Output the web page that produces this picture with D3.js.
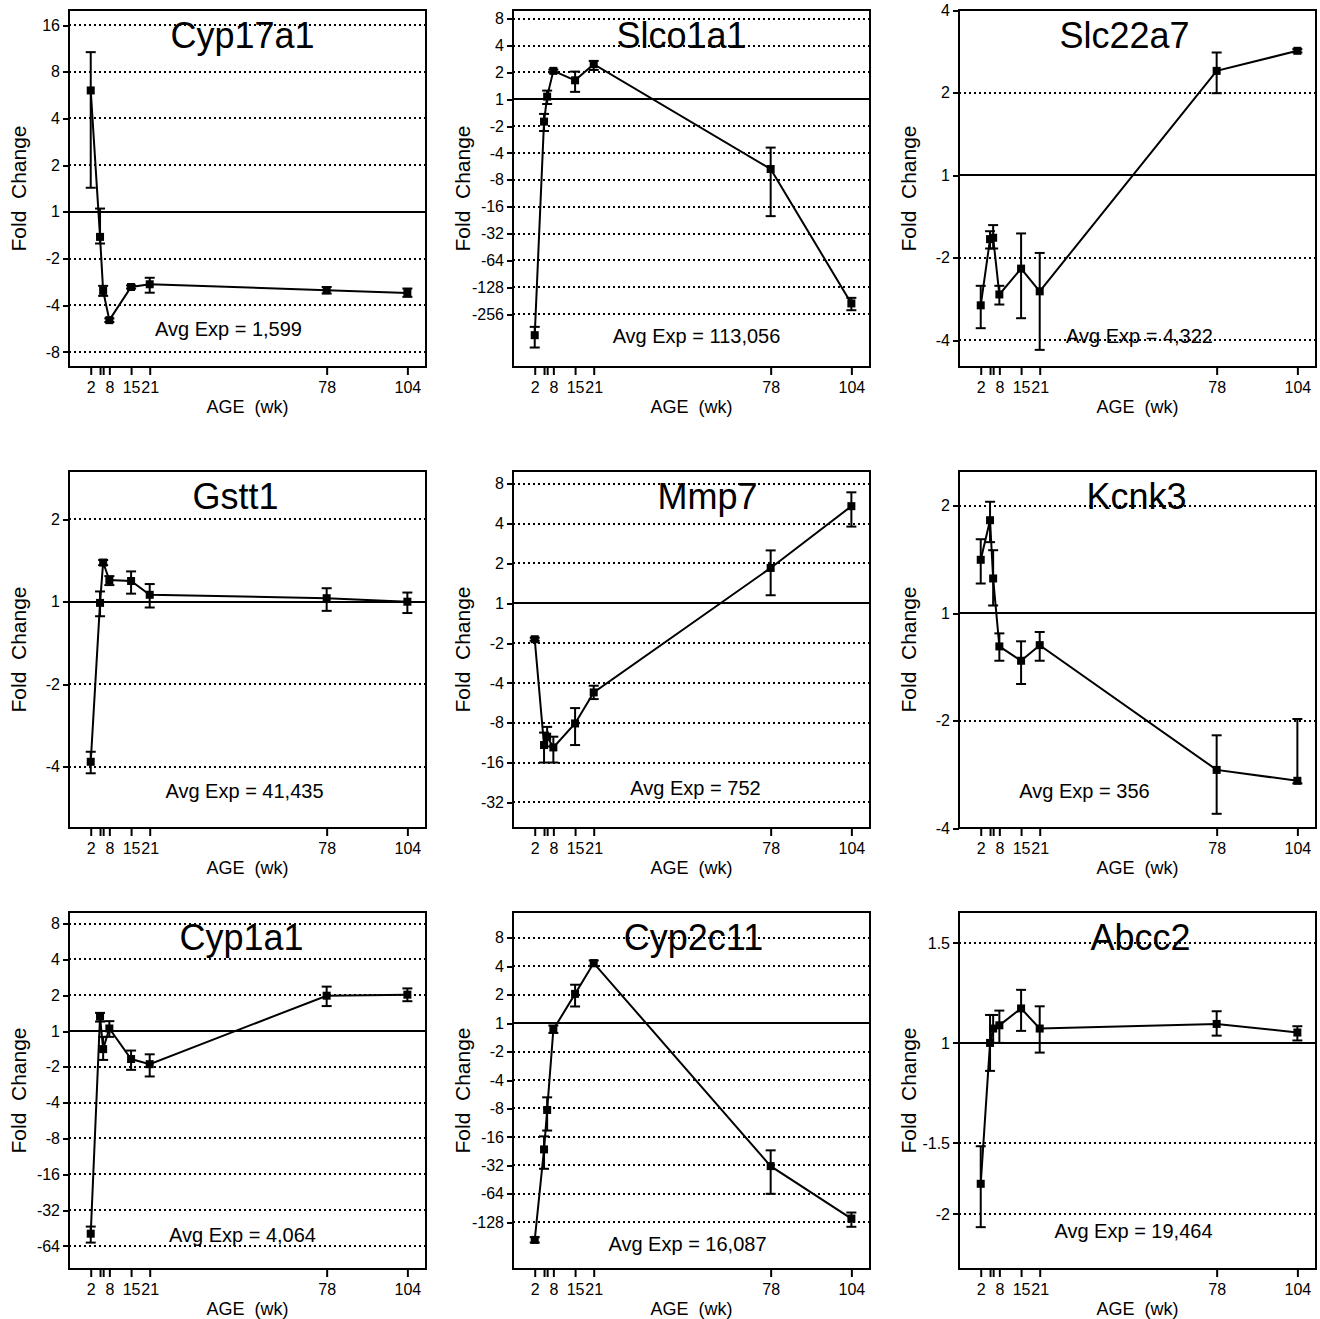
<!DOCTYPE html>
<html>
<head>
<meta charset="utf-8">
<script src="https://cdn.jsdelivr.net/npm/d3@7"></script>
<style>
  body { margin: 0; background: #fff; }
  text { font-family: Arial, "Liberation Sans", sans-serif; fill: #000; }
</style>
</head>
<body>
<svg id="chart" width="1320" height="1319"></svg>
<script>
// ages sampled (weeks) and their axis labels
var ages = [2, 5, 6, 8, 15, 21, 78, 104];
var ageLabels = ["2", "", "", "8", "15", "21", "78", "104"];

var genes = ["Cyp17a1", "Slco1a1", "Slc22a7", "Gstt1", "Mmp7", "Kcnk3", "Cyp1a1", "Cyp2c11", "Abcc2"];
var avgExp = ["1,599", "113,056", "4,322", "41,435", "752", "356", "4,064", "16,087", "19,464"];

// fold change per age (negative = fold decrease), with error bar ends
var foldCyp17a1 = [6.06, -1.45, -3.23, -4.99, -3.05, -2.93, -3.2, -3.34];
var hiCyp17a1   = [10.7, 1.05, -3.0, -4.86, -2.98, -2.66, -3.05, -3.12];
var loCyp17a1   = [1.43, -1.6, -3.48, -5.13, -3.12, -3.32, -3.36, -3.53];

var foldSlco1a1 = [-440, -1.78, 1.07, 2.08, 1.63, 2.47, -6.05, -194];
var hiSlco1a1   = [-355, -1.46, 1.25, 2.15, 2.04, 2.69, -3.48, -168];
var loSlco1a1   = [-605, -2.27, -1.13, 2.0, 1.21, 2.13, -20.4, -231];

var foldSlc22a7 = [-2.98, -1.71, -1.69, -2.72, -2.19, -2.65, 2.40, 2.84];
var hiSlc22a7   = [-2.53, -1.6, -1.52, -2.53, -1.63, -1.92, 2.80, 2.88];
var loSlc22a7   = [-3.61, -1.85, -1.85, -2.96, -3.32, -4.33, 1.99, 2.80];

var foldGstt1 = [-3.84, -1.01, 1.39, 1.2, 1.19, 1.06, 1.03, 1.0];
var hiGstt1   = [-3.53, 1.09, 1.42, 1.24, 1.29, 1.16, 1.12, 1.08];
var loGstt1   = [-4.23, -1.13, 1.36, 1.15, 1.07, -1.05, -1.08, -1.1];

var foldMmp7 = [-1.87, -11.8, -10.2, -12.3, -8.1, -4.72, 1.85, 5.42];
var hiMmp7   = [-1.82, -9.5, -8.6, -10.2, -6.2, -4.2, 2.51, 6.9];
var loMmp7   = [-1.92, -16, -12.1, -16, -11.8, -5.3, 1.15, 3.8];

var foldKcnk3 = [1.41, 1.82, 1.25, -1.24, -1.36, -1.23, -2.75, -2.95];
var hiKcnk3   = [1.61, 2.05, 1.5, -1.14, -1.2, -1.13, -2.2, -1.98];
var loKcnk3   = [1.21, 1.58, 1.05, -1.36, -1.58, -1.36, -3.65, -3.0];

var foldCyp1a1 = [-50.5, 1.32, -1.42, 1.05, -1.72, -1.9, 1.98, 2.02];
var hiCyp1a1   = [-44, 1.42, -1.12, 1.21, -1.46, -1.57, 2.36, 2.28];
var loCyp1a1   = [-60, 1.2, -1.75, -1.12, -2.12, -2.41, 1.62, 1.78];

var foldCyp2c11 = [-197, -21.7, -8.3, -1.17, 2.04, 4.32, -32.6, -117];
var hiCyp2c11   = [-184, -15.8, -6.1, -1.06, 2.55, 4.6, -22.2, -101];
var loCyp2c11   = [-210, -34.8, -13.7, -1.27, 1.5, 4.0, -64, -143];

var foldAbcc2 = [-1.77, 1.0, 1.06, 1.074, 1.15, 1.06, 1.08, 1.043];
var hiAbcc2   = [-1.52, 1.12, 1.12, 1.14, 1.24, 1.16, 1.137, 1.07];
var loAbcc2   = [-2.11, -1.12, 1.0, 1.0, 1.05, -1.04, 1.03, 1.01];

var folds = [foldCyp17a1, foldSlco1a1, foldSlc22a7, foldGstt1, foldMmp7, foldKcnk3, foldCyp1a1, foldCyp2c11, foldAbcc2];
var his   = [hiCyp17a1, hiSlco1a1, hiSlc22a7, hiGstt1, hiMmp7, hiKcnk3, hiCyp1a1, hiCyp2c11, hiAbcc2];
var los   = [loCyp17a1, loSlco1a1, loSlc22a7, loGstt1, loMmp7, loKcnk3, loCyp1a1, loCyp2c11, loAbcc2];

// y axis limits and tick labels (fold change)
var yLimits = [[-10, 20], [-1000, 10], [-5, 4], [-6.7, 3], [-50, 10], [-4, 2.5], [-100, 10], [-400, 15], [-2.5, 1.7]];
var yTicks = [
  [16, 8, 4, 2, 1, -2, -4, -8],
  [8, 4, 2, 1, -2, -4, -8, -16, -32, -64, -128, -256],
  [4, 2, 1, -2, -4],
  [2, 1, -2, -4],
  [8, 4, 2, 1, -2, -4, -8, -16, -32],
  [2, 1, -2, -4],
  [8, 4, 2, 1, -2, -4, -8, -16, -32, -64],
  [8, 4, 2, 1, -2, -4, -8, -16, -32, -64, -128],
  [1.5, 1, -1.5, -2]
];

// layout
var colLeft = [69, 513, 959];
var rowTop = [10, 471, 912];
var size = 357;
var titleDx = [-5, -10, -13, -12, 16, -1, -6, 2, 3];
var avgDx = [-19, 5, 2, -3, 4, -53, -5, -4, -4];
var avgY = [326, 333, 333, 327, 324, 327, 330, 339, 326];

// signed fold change -> log2 position (1 at zero)
var toLog = function (f) {
  return f >= 1 ? Math.log2(f) : -Math.log2(-f);
};

var svg = d3.select('#chart');

var x = d3.scaleLinear().domain([-5, 110]).range([0, size]);

genes.forEach(function (gene, k) {
  var g = svg.append('g')
    .attr('transform', 'translate(' + colLeft[k % 3] + ',' + rowTop[Math.floor(k / 3)] + ')');

  var y = d3.scaleLinear()
    .domain([toLog(yLimits[k][0]), toLog(yLimits[k][1])])
    .range([size, 0]);

  var ticks = yTicks[k];

  // grid lines (dotted), baseline at 1 is solid
  ticks.forEach(function (t) {
    var yy = Math.round(y(toLog(t)));
    g.append('line')
      .attr('x1', 0).attr('x2', size)
      .attr('y1', yy).attr('y2', yy)
      .attr('stroke', '#000')
      .attr('stroke-width', 2)
      .attr('shape-rendering', 'crispEdges')
      .attr('stroke-dasharray', t === 1 ? null : '2,3');
  });

  // axes
  var yAxis = d3.axisLeft(y)
    .tickValues(ticks.map(toLog))
    .tickFormat(function (d, i) { return ticks[i]; })
    .tickSize(6).tickPadding(3);
  var ya = g.append('g').call(yAxis);
  ya.select('.domain').remove();
  ya.selectAll('line').attr('stroke-width', 2).attr('shape-rendering', 'crispEdges');
  ya.selectAll('text').style('font-size', '16px').style('font-family', 'Arial, "Liberation Sans", sans-serif');

  var xAxis = d3.axisBottom(x)
    .tickValues(ages)
    .tickFormat(function (d, i) { return ageLabels[i]; })
    .tickSize(8).tickPadding(7);
  var xa = g.append('g').attr('transform', 'translate(0,' + size + ')').call(xAxis);
  xa.select('.domain').remove();
  xa.selectAll('line').attr('stroke-width', 2);
  xa.selectAll('text').style('font-size', '16px').style('font-family', 'Arial, "Liberation Sans", sans-serif');

  // frame
  g.append('rect')
    .attr('width', size).attr('height', size)
    .attr('fill', 'none').attr('stroke', '#000').attr('stroke-width', 2)
    .attr('shape-rendering', 'crispEdges');

  var points = ages.map(function (a, i) {
    return { age: a, fold: folds[k][i], hi: his[k][i], lo: los[k][i] };
  });

  // error bars
  var eb = g.selectAll('.err').data(points).enter().append('g').attr('class', 'err');
  eb.append('line')
    .attr('x1', function (d) { return x(d.age); })
    .attr('x2', function (d) { return x(d.age); })
    .attr('y1', function (d) { return y(toLog(d.hi)); })
    .attr('y2', function (d) { return y(toLog(d.lo)); })
    .attr('stroke', '#000').attr('stroke-width', 2);
  ['hi', 'lo'].forEach(function (key) {
    eb.append('line')
      .attr('x1', function (d) { return x(d.age) - 5; })
      .attr('x2', function (d) { return x(d.age) + 5; })
      .attr('y1', function (d) { return y(toLog(d[key])); })
      .attr('y2', function (d) { return y(toLog(d[key])); })
      .attr('stroke', '#000').attr('stroke-width', 2);
  });

  // line and markers
  var line = d3.line()
    .x(function (d) { return x(d.age); })
    .y(function (d) { return y(toLog(d.fold)); });
  g.append('path').datum(points)
    .attr('d', line)
    .attr('fill', 'none').attr('stroke', '#000').attr('stroke-width', 2);

  g.selectAll('.pt').data(points).enter().append('rect')
    .attr('class', 'pt')
    .attr('x', function (d) { return x(d.age) - 4; })
    .attr('y', function (d) { return y(toLog(d.fold)) - 4; })
    .attr('width', 8).attr('height', 8)
    .attr('fill', '#000');

  // texts
  g.append('text')
    .attr('x', size / 2 + titleDx[k]).attr('y', 38)
    .attr('text-anchor', 'middle')
    .style('font-size', '36px')
    .text(gene);

  g.append('text')
    .attr('x', size / 2 + avgDx[k]).attr('y', avgY[k])
    .attr('text-anchor', 'middle')
    .style('font-size', '20px')
    .text('Avg Exp = ' + avgExp[k]);

  g.append('text')
    .attr('transform', 'translate(-43,' + size / 2 + ') rotate(-90)')
    .attr('text-anchor', 'middle')
    .style('font-size', '21px')
    .style('white-space', 'pre')
    .text('Fold  Change');

  g.append('text')
    .attr('x', size / 2).attr('y', size + 46)
    .attr('text-anchor', 'middle')
    .style('font-size', '18px')
    .style('white-space', 'pre')
    .text('AGE  (wk)');
});
</script>
</body>
</html>
